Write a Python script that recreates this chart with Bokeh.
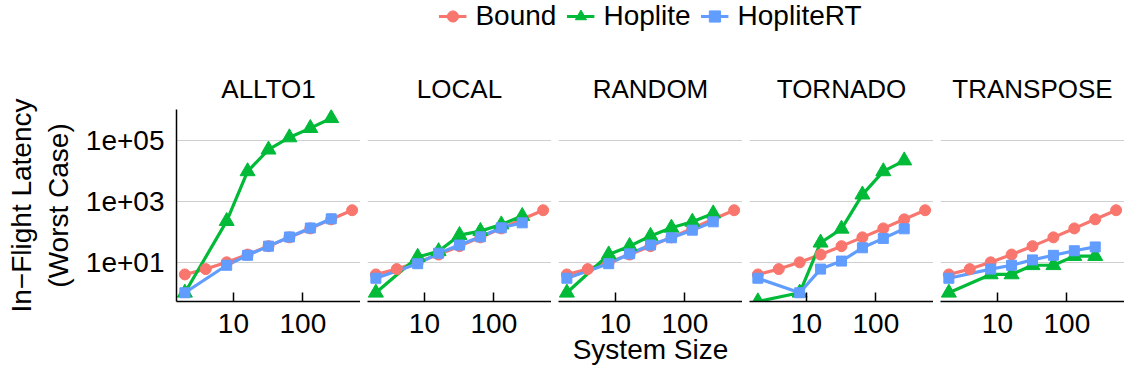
import numpy as np
from bokeh.plotting import figure
from bokeh.layouts import row, column
from bokeh.models import Range1d, FixedTicker, Grid, Legend, LegendItem
from bokeh.embed import file_html
from bokeh.resources import INLINE

# ---------------- data ----------------
patterns = ["ALLTO1", "LOCAL", "RANDOM", "TORNADO", "TRANSPOSE"]
series_names = ["Bound", "Hoplite", "HopliteRT"]

bound_sizes = [2, 4, 8, 16, 32, 64, 128, 256, 512]
bound_latency = [4, 6, 10, 18, 34, 66, 130, 258, 514]

hoplite_sizes = [2, 8, 16, 32, 64, 128, 256]
hoplite_allto1 = [1, 225, 9700, 50000, 126000, 255000, 540000]
hoplite_local = [1, 15, 23, 78, 106, 174, 330]
hoplite_random = [1, 18, 34, 73, 136, 214, 400]
hoplite_tornado = [0, 1, 44, 126, 1670, 9700, 22000]
hoplite_transpose = [1, 4, 4, 8, 8, 16, 16]

hopliteRT_allto1 = [1, 8, 17, 34, 68, 134, 268]
hopliteRT_local = [3, 9, 20, 37, 69, 136, 198]
hopliteRT_random = [3, 9, 19, 37, 64, 114, 214]
hopliteRT_tornado = [3, 1, 6, 11, 30, 61, 126]
hopliteRT_transpose = [3, 6, 8, 12, 17, 24, 32]

x_ticks = [10, 100]
x_tick_labels = ["10", "100"]
y_ticks = [10, 1000, 100000]
y_tick_labels = ["1e+01", "1e+03", "1e+05"]

hoplite_by_pattern = [hoplite_allto1, hoplite_local, hoplite_random, hoplite_tornado, hoplite_transpose]
hopliteRT_by_pattern = [hopliteRT_allto1, hopliteRT_local, hopliteRT_random, hopliteRT_tornado, hopliteRT_transpose]

# ---------------- style ----------------
colors = {"Bound": "#F8766D", "Hoplite": "#00BA38", "HopliteRT": "#619CFF"}
markers = {"Bound": "circle", "Hoplite": "triangle", "HopliteRT": "square"}
msizes = {"Bound": 11, "Hoplite": 15, "HopliteRT": 10}
FONT = "Liberation Sans"

# ggplot-like ranges (5% expansion in log space)
all_y = [v for v in bound_latency if v > 0]
for s in hoplite_by_pattern + hopliteRT_by_pattern:
    all_y += [v for v in s if v > 0]
ylo, yhi = np.log10(min(all_y)), np.log10(max(all_y))
ypad = 0.05 * (yhi - ylo)
y_start, y_end = 10 ** (ylo - ypad), 10 ** (yhi + ypad)
all_x = bound_sizes + hoplite_sizes
xlo, xhi = np.log10(min(all_x)), np.log10(max(all_x))
xpad = 0.05 * (xhi - xlo)
x_start, x_end = 10 ** (xlo - xpad), 10 ** (xhi + xpad)


def clip0(vals):
    # zero latency is -Inf on a log scale: drawn at the panel edge
    return [v if v > 0 else y_start for v in vals]


FRAME_W, FRAME_H = 184, 192
GAP = 7
LEFT = 176
TOP = 46
BOTTOM = 76
LEG_H = 63

panels = []
for i, name in enumerate(patterns):
    first = i == 0
    p = figure(frame_width=FRAME_W, frame_height=FRAME_H,
               x_axis_type="log", y_axis_type="log",
               x_range=Range1d(x_start, x_end), y_range=Range1d(y_start, y_end),
               y_axis_location="left" if first else None,
               toolbar_location=None, output_backend="svg",
               min_border_left=LEFT if first else GAP, min_border_right=0,
               min_border_top=TOP, min_border_bottom=BOTTOM,
               title=name)
    p.outline_line_color = None
    p.background_fill_color = "white"
    p.border_fill_color = "white"
    p.grid.visible = False
    p.add_layout(Grid(dimension=1, ticker=FixedTicker(ticks=y_ticks),
                      grid_line_color="#cfcfcf", grid_line_width=1), "center")

    p.title.text_font = FONT
    p.title.text_font_size = "26px"
    p.title.text_font_style = "normal"
    p.title.text_color = "black"
    p.title.align = "center"
    p.title.standoff = 11

    xa = p.xaxis[0]
    xa.ticker = FixedTicker(ticks=x_ticks)
    xa.major_label_overrides = dict(zip(x_ticks, x_tick_labels))
    xa.major_label_text_font = FONT
    xa.major_label_text_font_size = "28px"
    xa.major_label_text_color = "black"
    xa.major_label_standoff = 12
    xa.major_tick_in = 9
    xa.major_tick_out = 0
    xa.major_tick_line_color = "black"
    xa.major_tick_line_width = 1.5
    xa.minor_tick_line_color = None
    xa.axis_line_color = "black"
    xa.axis_line_width = 1.5
    if i == 2:
        xa.axis_label = "System Size"
        xa.axis_label_text_font = FONT
        xa.axis_label_text_font_size = "28px"
        xa.axis_label_text_font_style = "normal"
        xa.axis_label_text_color = "black"
        xa.axis_label_standoff = -2

    if first:
        ya = p.yaxis[0]
        ya.ticker = FixedTicker(ticks=y_ticks)
        ya.major_label_overrides = dict(zip(y_ticks, y_tick_labels))
        ya.major_label_text_font = FONT
        ya.major_label_text_font_size = "28px"
        ya.major_label_text_color = "black"
        ya.major_label_standoff = 12
        ya.major_tick_in = 0
        ya.major_tick_out = 0
        ya.minor_tick_line_color = None
        ya.axis_line_color = "black"
        ya.axis_line_width = 1.5
        ya.axis_label = "In\u2212Flight Latency\n(Worst Case)"
        ya.axis_label_text_font = FONT
        ya.axis_label_text_font_size = "28px"
        ya.axis_label_text_font_style = "normal"
        ya.axis_label_text_color = "black"
        ya.axis_label_standoff = 9

    data = [("Bound", bound_sizes, bound_latency),
            ("Hoplite", hoplite_sizes, clip0(hoplite_by_pattern[i])),
            ("HopliteRT", hoplite_sizes, clip0(hopliteRT_by_pattern[i]))]
    for s, xs, ys in data:
        p.line(xs, ys, line_color=colors[s], line_width=3.2)
    for s, xs, ys in data:
        p.scatter(xs, ys, marker=markers[s], size=msizes[s],
                  fill_color=colors[s], line_color=colors[s])
    panels.append(p)

# ---------------- legend ----------------
leg = figure(frame_width=FRAME_W * 5 + GAP * 4, frame_height=LEG_H,
             x_range=Range1d(0, 1), y_range=Range1d(0, 1),
             x_axis_location=None, y_axis_location=None,
             toolbar_location=None, output_backend="svg",
             min_border_left=LEFT, min_border_right=0,
             min_border_top=0, min_border_bottom=0)
leg.outline_line_color = None
leg.grid.visible = False
nan = float("nan")
items = []
for s in series_names:
    lr = leg.line(x=[nan], y=[nan], line_color=colors[s], line_width=3.2)
    sr = leg.scatter(x=[nan], y=[nan], marker=markers[s], size=msizes[s],
                     fill_color=colors[s], line_color=colors[s])
    items.append(LegendItem(label=s, renderers=[lr, sr]))
legend = Legend(items=items, orientation="horizontal", location="top_center",
                glyph_width=28, glyph_height=28, label_standoff=9, spacing=10,
                padding=0, margin=0, border_line_color=None,
                background_fill_alpha=0,
                label_text_font=FONT, label_text_font_size="28px",
                label_text_color="black")
leg.add_layout(legend, "center")

layout = column(leg, row(*panels))
open("out.html", "w").write(file_html(layout, INLINE))
